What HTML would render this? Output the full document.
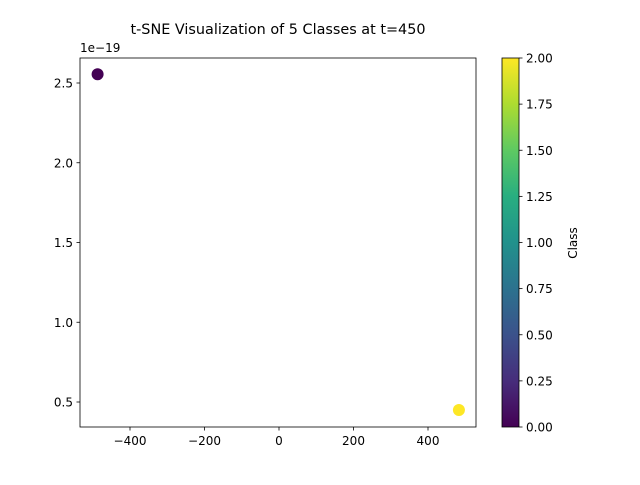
<!DOCTYPE html>
<html><head><meta charset="utf-8"><style>
body{margin:0;background:#fff;}
svg text{font-family:"DejaVu Sans","Liberation Sans",sans-serif;}
</style></head><body>
<svg id="chart" width="640" height="480" xmlns="http://www.w3.org/2000/svg">
<defs>
<linearGradient id="vir" x1="0" y1="1" x2="0" y2="0">
<stop offset="0" stop-color="#440154"/><stop offset="0.125" stop-color="#472d7b"/>
<stop offset="0.25" stop-color="#3b528b"/><stop offset="0.375" stop-color="#2c728e"/>
<stop offset="0.5" stop-color="#21918c"/><stop offset="0.625" stop-color="#28ae80"/>
<stop offset="0.75" stop-color="#5ec962"/><stop offset="0.875" stop-color="#addc30"/>
<stop offset="1" stop-color="#fde725"/>
</linearGradient>
</defs>
<text x="278" y="34" font-size="14.4" text-anchor="middle">t-SNE Visualization of 5 Classes at t=450</text>
<g id="axes"></g>
<rect x="80" y="58" width="396" height="369" fill="none" stroke="#000" stroke-width="0.8"/>
<text x="80" y="52" font-size="12">1e−19</text>
<rect x="502" y="58" width="17" height="369" fill="url(#vir)" stroke="#000" stroke-width="0.8"/>
<text x="577" y="243" font-size="12" text-anchor="middle" transform="rotate(-90 577 243)">Class</text>
</svg>
<script>
const xVals=[-487,483];
const yVals=[2.555,0.45];
const classes=[0,2];
const xTicks=[-400,-200,0,200,400];
const yTicks=[0.5,1.0,1.5,2.0,2.5];
const cbTicks=[0,0.25,0.5,0.75,1.0,1.25,1.5,1.75,2.0];
const NS="http://www.w3.org/2000/svg";
const g=document.getElementById('axes');
const sx=v=>279+v*0.3725;
const sy=v=>402-(v-0.5)*159.5;
const sc=v=>427-v/2*369;
const vir=["#440154","#472d7b","#3b528b","#2c728e","#21918c","#28ae80","#5ec962","#addc30","#fde725"];
const col=c=>vir[Math.round(c/2*8)];
function mk(t,a){const e=document.createElementNS(NS,t);for(const k in a)e.setAttribute(k,a[k]);g.appendChild(e);return e;}
xTicks.forEach(v=>{
 const l=mk('line',{x1:sx(v),x2:sx(v),y1:427,y2:430.5,stroke:'#000','stroke-width':0.8});
 
 
 const t=mk('text',{x:sx(v),y:445,'font-size':12,'text-anchor':'middle'});
 t.textContent=(v<0?'−':'')+Math.abs(v);
 
 
});
yTicks.forEach(v=>{
 const l=mk('line',{x1:76.5,x2:80,y1:sy(v),y2:sy(v),stroke:'#000','stroke-width':0.8});
 
 
 const t=mk('text',{x:73,y:sy(v)+4.5,'font-size':12,'text-anchor':'end'});
 t.textContent=v.toFixed(1);
 
 
});
cbTicks.forEach(v=>{
 const l=mk('line',{x1:519,x2:522.5,y1:sc(v),y2:sc(v),stroke:'#000','stroke-width':0.8});
 
 
 const t=mk('text',{x:526,y:sc(v)+4.5,'font-size':12});
 t.textContent=v.toFixed(2);
 
 
});
xVals.forEach((x,i)=>{
 const c=mk('circle',{cx:sx(x),cy:sy(yVals[i]),r:6,fill:col(classes[i])});
 
 
});
</script>
</body></html>
